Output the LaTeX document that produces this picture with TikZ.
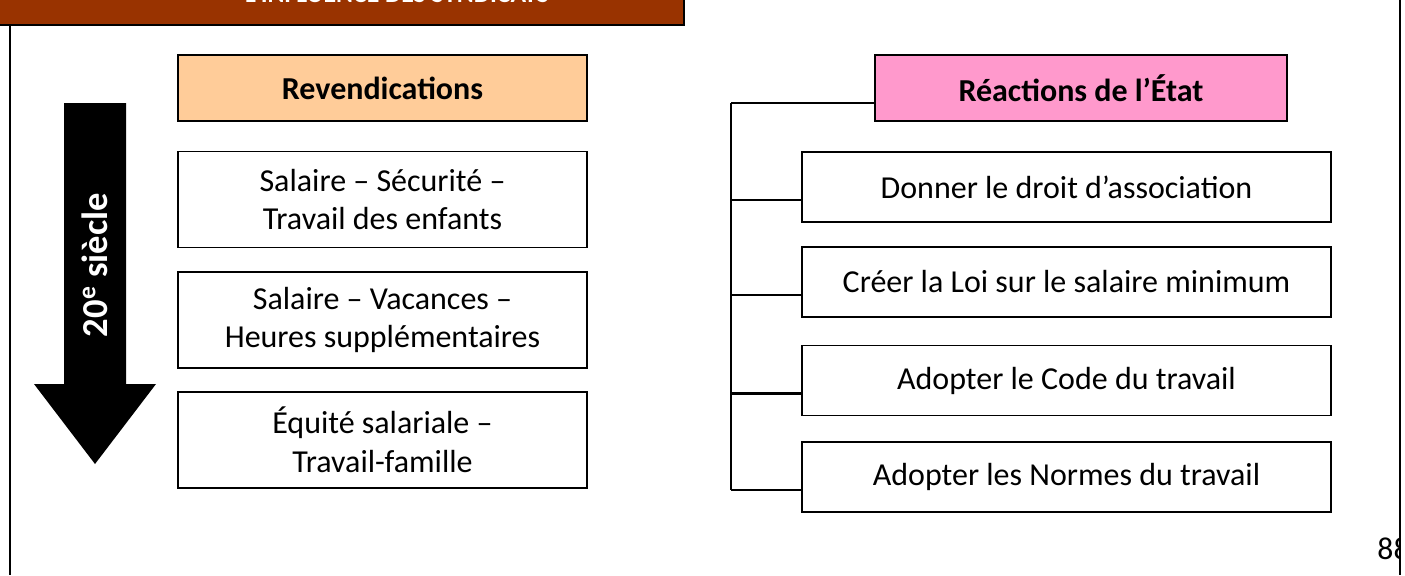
\documentclass[tikz,border=0pt]{standalone}
\usepackage{fontspec}
\setmainfont{Carlito}
\usepackage{xcolor}
\usetikzlibrary{positioning,calc}
\definecolor{barbrown}{HTML}{993300}
\definecolor{peach}{HTML}{FFCC99}
\definecolor{rose}{HTML}{FF99CC}

\begin{document}
\begin{tikzpicture}[x=0.015cm,y=-0.015cm,
  every node/.style={font=\fontsize{13.65}{16.6}\selectfont,align=center,inner sep=0pt},
  head/.style={draw,line width=0.8pt,minimum height=0.99cm,font=\fontsize{13.65}{16.6}\selectfont\bfseries},
  claim/.style={draw,line width=0.8pt,minimum width=6.135cm,minimum height=1.44cm},
  reply/.style={draw,line width=0.8pt,minimum width=7.935cm,minimum height=1.05cm},
  link/.style={line width=0.9pt},
  frame/.style={line width=0.9pt}
]
  \useasboundingbox (0,0) rectangle (1405,575);
  \draw[frame,fill=barbrown] (-20,-60) rectangle (684,25);
  \node[anchor=base,text=white,font=\fontsize{11}{13}\selectfont\bfseries] (titre) at (397,2)
    {L’INFLUENCE DES SYNDICATS};
  \draw[frame] (10,25) -- (10,575);
  \draw[frame] (1400,0) -- (1400,575);
  \begin{scope}
    \clip (1300,500) rectangle (1400,575);
    \node[anchor=base west,font=\fontsize{13.5}{16}\selectfont] (page) at (1377,559) {88};
  \end{scope}

  \fill (64,103) -- (126,103) -- (126,384) -- (156,384) -- (95,464)
    -- (34,384) -- (64,384) -- cycle;
  \node[rotate=90,text=white,font=\fontsize{15.6}{18}\selectfont\bfseries] (era) at (95,265)
    {20\textsuperscript{e} siècle};

  \node[head,fill=peach,minimum width=6.135cm] (rev) at (382.5,88) {Revendications};
  \node[claim] (s1) at (382.5,199.5) {Salaire – Sécurité –\\Travail des enfants};
  \node[claim] (s2) at (382.5,320) {Salaire – Vacances –\\Heures supplémentaires};
  \node[claim] (s3) at (382.5,440) {Équité salariale –\\Travail-famille};

  \node[head,fill=rose,minimum width=6.18cm] (etat) at (1081,88) {Réactions de l’État};
  \node[reply] (r1) at (1066.5,187) {Donner le droit d’association};
  \node[reply] (r2) at (1066.5,282) {Créer la Loi sur le salaire minimum};
  \node[reply] (r3) at (1066.5,380.5) {Adopter le Code du travail};
  \node[reply] (r4) at (1066.5,477) {Adopter les Normes du travail};

  \coordinate (top) at (731,103);
  \coordinate (bot) at ($(top |- r4.south west)+(0,-23)$);
  \draw[link] (top) -- (top -| etat.west);
  \draw[link] (top) -- (bot);
  \foreach \r in {r1,r2,r3,r4}
    \draw[link] ($(top |- \r.south west)+(0,-23)$) -- ($(\r.south west)+(0,-23)$);
\end{tikzpicture}
\end{document}
